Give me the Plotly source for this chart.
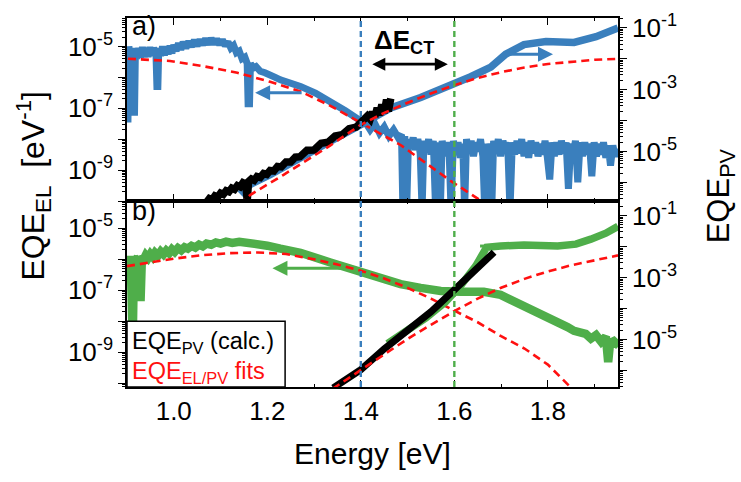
import plotly.graph_objects as go
from plotly.subplots import make_subplots

# ---------------- data ----------------
# Panel a) -- EQE_EL (left axis), blue, noisy measurement
a_el_E = [0.900, 0.902, 0.904, 0.907, 0.910, 0.913, 0.916, 0.918, 0.921, 0.925, 0.929, 0.933, 0.937, 0.941, 0.945,
          0.949, 0.953, 0.957, 0.962, 0.964, 0.966, 0.968, 0.972, 0.976, 0.980, 0.984, 0.988, 0.992, 0.996, 1.000,
          1.005, 1.010, 1.015, 1.020, 1.026, 1.032, 1.038, 1.044, 1.050, 1.056, 1.062, 1.068, 1.074, 1.080, 1.086,
          1.092, 1.098, 1.104, 1.110, 1.116, 1.122, 1.128, 1.134, 1.140, 1.146, 1.152, 1.157, 1.159, 1.162, 1.164,
          1.170, 1.176, 1.185, 1.195, 1.206, 1.217, 1.228, 1.249, 1.271, 1.303, 1.335, 1.367, 1.399, 1.410, 1.420,
          1.430, 1.440, 1.450, 1.460, 1.470, 1.480, 1.487,
          1.490, 1.494, 1.498, 1.502, 1.507, 1.512, 1.517, 1.522, 1.527, 1.531, 1.535, 1.540, 1.545, 1.550, 1.555,
          1.560, 1.565, 1.570, 1.574, 1.579, 1.584, 1.589, 1.593, 1.598, 1.603, 1.608, 1.613, 1.618, 1.622, 1.626,
          1.631, 1.636, 1.641, 1.646, 1.651, 1.656, 1.661, 1.665, 1.670, 1.675, 1.680, 1.684, 1.689, 1.694, 1.699,
          1.704, 1.709, 1.714, 1.719, 1.724, 1.729, 1.734, 1.739, 1.744, 1.749, 1.754, 1.759, 1.764, 1.769, 1.774,
          1.779, 1.784, 1.789, 1.794, 1.799, 1.804, 1.809, 1.814, 1.819, 1.824, 1.829, 1.834, 1.839, 1.844, 1.849,
          1.854, 1.859, 1.864, 1.869, 1.874, 1.879, 1.884, 1.889, 1.894, 1.899, 1.904, 1.909, 1.914, 1.919, 1.924,
          1.929, 1.934, 1.939, 1.944, 1.950]
a_el_v = [7.9e-6, 3.5e-8, 1.0e-5, 4.2e-6, 8.9e-6, 5.8e-8, 5.8e-8, 8.3e-6, 4.0e-6, 8.9e-6, 4.4e-6, 9.5e-6, 4.5e-6, 8.9e-6, 4.6e-6,
          9.5e-6, 5.0e-6, 8.9e-6, 5.6e-6, 5.1e-7, 5.1e-7, 8.9e-6, 5.0e-6, 1.0e-5, 5.2e-6, 1.0e-5, 5.6e-6, 1.05e-5, 6.0e-6, 1.12e-5,
          7.1e-6, 1.26e-5, 7.9e-6, 1.38e-5, 8.9e-6, 1.45e-5, 1.0e-5, 1.58e-5, 1.05e-5, 1.66e-5, 1.12e-5, 1.78e-5, 1.17e-5, 1.82e-5, 1.2e-5,
          1.74e-5, 1.15e-5, 1.66e-5, 1.05e-5, 1.41e-5, 8.9e-6, 1.07e-5, 6.3e-6, 7.1e-6, 4.0e-6, 4.5e-6, 2.8e-6, 1.4e-7, 1.4e-7, 2.8e-6,
          2.0e-6, 2.24e-6, 1.58e-6, 1.41e-6, 1.1e-6, 1.0e-6, 8.3e-7, 6.8e-7, 5.1e-7, 3.1e-7, 1.7e-7, 8.3e-8, 4.0e-8, 3.5e-8, 2.0e-8,
          3.2e-8, 1.58e-8, 2.5e-8, 1.26e-8, 2.0e-8, 1.12e-8, 1.41e-8,
          5e-11, 1.26e-8, 5e-11, 1.0e-8, 5.6e-9, 1.12e-8, 4.5e-9, 1.0e-8, 3.5e-9, 5e-11, 8.9e-9, 4.0e-9, 1.0e-8, 3.2e-9, 8.9e-9,
          5e-11, 7.9e-9, 5e-11, 8.9e-9, 2.8e-9, 7.9e-9, 3.5e-9, 5e-11, 8.9e-9, 3.2e-9, 7.9e-9, 2.5e-9, 7.1e-9, 5e-11, 1.0e-8,
          3.5e-9, 8.9e-9, 2.8e-9, 7.9e-9, 4.0e-9, 1.0e-8, 2.8e-9, 5e-11, 7.1e-9, 3.2e-9, 5e-11, 8.9e-9, 3.5e-9, 1.0e-8, 2.8e-9,
          8.9e-9, 4.0e-9, 7.9e-9, 5e-11, 7.9e-9, 3.2e-9, 8.9e-9, 3.5e-9, 1.0e-8, 2.8e-9, 7.9e-9, 2.5e-9, 8.9e-9, 3.5e-9, 7.9e-9,
          2.8e-9, 7.1e-9, 3.2e-9, 8.9e-9, 2.5e-9, 5.0e-10, 7.9e-9, 2.8e-9, 7.9e-9, 3.2e-9, 8.9e-9, 3.5e-9, 7.9e-9, 2.5e-10, 7.1e-9,
          3.2e-9, 8.9e-9, 4.0e-10, 7.9e-9, 2.8e-9, 7.9e-9, 3.2e-9, 7.1e-9, 6.3e-10, 7.9e-9, 2.8e-9, 7.1e-9, 3.2e-9, 7.9e-9, 2.5e-9,
          6.3e-9, 1.4e-9, 6.3e-9, 2.8e-9, 5.0e-9]

# Panel a) -- measured EQE_PV (right axis), blue
a_pv_E = [1.142, 1.164, 1.206, 1.271, 1.335, 1.404, 1.464, 1.528, 1.603, 1.635, 1.678, 1.710, 1.749, 1.796, 1.856, 1.903, 1.950]
a_pv_v = [4.2e-7, 8.7e-7, 1.78e-6, 6.6e-6, 2.14e-5, 7.9e-5, 2.57e-4, 5.6e-4, 1.58e-3, 2.63e-3, 5.4e-3, 1.41e-2, 2.88e-2,
          3.6e-2, 3.4e-2, 5.2e-2, 1.0e-1]

# Panel a) -- calculated EQE_PV (right axis), black
a_calc_E = [1.070, 1.076, 1.082, 1.088, 1.094, 1.100, 1.106, 1.112, 1.118, 1.124, 1.130, 1.136, 1.142, 1.148, 1.154,
            1.157, 1.160, 1.166, 1.172, 1.178, 1.185, 1.192, 1.199, 1.206, 1.214, 1.222, 1.230, 1.240, 1.250, 1.260,
            1.270, 1.285, 1.300, 1.315, 1.330, 1.345, 1.360, 1.375, 1.390, 1.400, 1.408, 1.414, 1.420, 1.425, 1.430,
            1.435, 1.440, 1.445, 1.450, 1.455, 1.459, 1.464]
a_calc_v = [2.3e-7, 3.0e-7, 2.75e-7, 3.7e-7, 3.4e-7, 4.5e-7, 4.1e-7, 5.4e-7, 5.0e-7, 6.6e-7, 6.0e-7, 7.9e-7, 7.2e-7, 9.8e-7, 8.9e-7,
            2.5e-7, 1.07e-6, 1.29e-6, 1.17e-6, 1.55e-6, 1.45e-6, 1.95e-6, 1.82e-6, 2.45e-6, 2.35e-6, 3.3e-6, 3.2e-6, 4.6e-6, 4.6e-6, 6.6e-6,
            6.8e-6, 1.1e-5, 1.12e-5, 1.86e-5, 2.0e-5, 3.2e-5, 3.5e-5, 5.5e-5, 6.2e-5, 8.9e-5, 1.0e-4, 1.41e-4, 1.12e-4, 1.9e-4, 1.32e-4,
            2.6e-4, 1.51e-4, 3.3e-4, 1.78e-4, 4.8e-4, 2.0e-4, 5.2e-4]

# Panel a) -- fits (red dashed)
a_elfit_E = [0.902, 0.992, 1.063, 1.136, 1.206, 1.271, 1.335, 1.399, 1.485, 1.592, 1.650, 1.700]
a_elfit_v = [4.0e-6, 3.4e-6, 2.3e-6, 1.41e-6, 7.2e-7, 3.5e-7, 1.2e-7, 3.5e-8, 6.5e-9, 4.5e-10, 1.2e-10, 3.2e-11]
a_pvfit_E = [1.140, 1.164, 1.234, 1.271, 1.335, 1.399, 1.450, 1.500, 1.550, 1.600, 1.650, 1.700, 1.750, 1.800,
             1.850, 1.900, 1.950]
a_pvfit_v = [1.9e-7, 4.0e-7, 1.74e-6, 4.0e-6, 1.58e-5, 7.2e-5, 1.78e-4, 3.8e-4, 7.6e-4, 1.41e-3, 2.4e-3, 3.7e-3,
             5.2e-3, 6.8e-3, 8.1e-3, 9.3e-3, 1.0e-2]

# Panel b) -- EQE_EL (left axis), green
b_el_E = [0.900, 0.902, 0.905, 0.908, 0.911, 0.913, 0.915, 0.919, 0.923, 0.926, 0.929, 0.932, 0.936, 0.940, 0.945,
          0.950, 0.955, 0.960, 0.966, 0.972, 0.978, 0.984, 0.990, 0.996, 1.002, 1.009, 1.016, 1.023, 1.030, 1.038,
          1.046, 1.054, 1.062, 1.070, 1.080, 1.090, 1.100, 1.112, 1.125, 1.140, 1.155, 1.170, 1.185, 1.200, 1.228,
          1.271, 1.335, 1.399, 1.442, 1.485, 1.528, 1.571, 1.614, 1.663, 1.699, 1.731, 1.764, 1.796, 1.812, 1.828,
          1.842, 1.856, 1.868, 1.881, 1.892, 1.903, 1.914, 1.924, 1.929, 1.933, 1.941, 1.952]
b_el_v = [1.12e-6, 8.9e-7, 1.15e-6, 8.9e-7, 1.26e-8, 1.26e-8, 1.17e-6, 9.5e-7, 1.2e-6, 5.0e-8, 4.5e-8, 1.29e-6, 1.02e-6, 1.35e-6, 1.1e-6,
          1.48e-6, 1.2e-6, 1.62e-6, 1.32e-6, 1.78e-6, 1.45e-6, 1.9e-6, 1.58e-6, 2.1e-6, 1.74e-6, 2.3e-6, 1.95e-6, 2.45e-6, 2.2e-6, 2.7e-6,
          2.4e-6, 2.95e-6, 2.6e-6, 3.2e-6, 2.95e-6, 3.5e-6, 3.2e-6, 3.7e-6, 3.4e-6, 3.7e-6, 3.5e-6, 3.4e-6, 3.0e-6, 2.75e-6, 2.2e-6,
          1.62e-6, 7.9e-7, 3.8e-7, 2.3e-7, 1.58e-7, 1.2e-7, 9.5e-8, 8.9e-8, 8.9e-8, 7.1e-8, 4.3e-8, 2.4e-8, 1.45e-8, 1.2e-8, 8.1e-9,
          6.5e-9, 4.9e-9, 4.5e-9, 3.9e-9, 2.75e-9, 3.6e-9, 2.2e-9, 3.2e-9, 4.8e-10, 2.0e-9, 2.3e-9, 1.6e-9]

# Panel b) -- measured EQE_PV (right axis), green
b_pv_E = [1.457, 1.496, 1.539, 1.581, 1.614, 1.646, 1.661, 1.669, 1.699, 1.749, 1.821, 1.860, 1.892, 1.924, 1.950]
b_pv_v = [7.4e-6, 1.78e-5, 5.0e-5, 1.62e-4, 5.6e-4, 2.4e-3, 6.2e-3, 9.5e-3, 1.05e-2, 1.12e-2, 1.05e-2, 1.2e-2,
          1.74e-2, 2.7e-2, 4.5e-2]

# Panel b) -- calculated EQE_PV (right axis), black
b_calc_E = [1.341, 1.370, 1.400, 1.450, 1.500, 1.550, 1.600, 1.650, 1.685]
b_calc_v = [2.75e-7, 5.0e-7, 1.07e-6, 5.0e-6, 2.0e-5, 7.9e-5, 4.0e-4, 2.0e-3, 6.6e-3]

# Panel b) -- fits (red dashed)
b_elfit_E = [0.90, 0.95, 1.00, 1.06, 1.12, 1.18, 1.24, 1.30, 1.35, 1.40, 1.45, 1.50, 1.55, 1.60, 1.65, 1.70, 1.75,
             1.80, 1.85, 1.90]
b_elfit_v = [6.0e-7, 7.9e-7, 1.05e-6, 1.35e-6, 1.58e-6, 1.66e-6, 1.48e-6, 1.0e-6, 6.8e-7, 4.3e-7, 2.4e-7, 1.2e-7,
             5.4e-8, 2.2e-8, 9.3e-9, 3.3e-9, 1.32e-9, 4.0e-10, 7.1e-11, 1.6e-11]
b_pvfit_E = [1.34, 1.40, 1.45, 1.50, 1.55, 1.60, 1.65, 1.70, 1.75, 1.80, 1.85, 1.90, 1.95]
b_pvfit_v = [2.6e-7, 1.05e-6, 3.3e-6, 1.05e-5, 3.0e-5, 8.3e-5, 2.1e-4, 4.7e-4, 9.1e-4, 1.58e-3, 2.5e-3, 3.7e-3, 5.2e-3]

# reference energies (vertical lines)
E_CT_a = 1.4
E_CT_b = 1.6

# tick labels
x_tickvals = [1.0, 1.2, 1.4, 1.6, 1.8]
x_ticktext = ["1.0", "1.2", "1.4", "1.6", "1.8"]
left_labels = {-9: "10<sup>-9</sup>", -7: "10<sup>-7</sup>", -5: "10<sup>-5</sup>"}
right_labels = {-5: "10<sup>-5</sup>", -3: "10<sup>-3</sup>", -1: "10<sup>-1</sup>"}

# ---------------- styling ----------------
BLUE = "#3a7fbd"
GREEN = "#4fae4a"
RED = "#ff1010"
FONT = "Liberation Sans, Arial, sans-serif"
TICK_SIZE = 26

fig = make_subplots(rows=2, cols=1, shared_xaxes=True, vertical_spacing=0,
                    specs=[[{"secondary_y": True}], [{"secondary_y": True}]])

def line(E, v, color, width, row, sec, dash=None):
    fig.add_trace(go.Scatter(x=E, y=v, mode="lines",
                             line=dict(color=color, width=width, dash=dash),
                             hoverinfo="skip", showlegend=False),
                  row=row, col=1, secondary_y=sec)

DASH = "8px,5px"
# panel a
line(a_el_E, a_el_v, BLUE, 7, 1, False)
line(a_elfit_E, a_elfit_v, RED, 2.6, 1, False, DASH)
line(a_pv_E, a_pv_v, BLUE, 7.5, 1, True)
line(a_calc_E, a_calc_v, "black", 7.5, 1, True)
line(a_pvfit_E, a_pvfit_v, RED, 2.6, 1, True, DASH)
# panel b
line(b_el_E, b_el_v, GREEN, 8.5, 2, False)
line(b_elfit_E, b_elfit_v, RED, 2.6, 2, False, DASH)
line(b_pv_E, b_pv_v, GREEN, 7.5, 2, True)
line(b_calc_E, b_calc_v, "black", 7, 2, True)
line(b_pvfit_E, b_pvfit_v, RED, 2.6, 2, True, DASH)

def decade_ticks(lo, hi, labels):
    vals = [10.0 ** n for n in range(lo, hi + 1)]
    text = [labels.get(n, "") for n in range(lo, hi + 1)]
    minor = [k * 10.0 ** n for n in range(lo - 1, hi + 1) for k in range(2, 10)]
    return vals, text, minor

def yaxis_style(rng, lo, hi, labels, side):
    vals, text, minor = decade_ticks(lo, hi, labels)
    return dict(type="log", range=rng, tickvals=vals, ticktext=text,
                ticks="outside", ticklen=7, tickwidth=1.3, tickcolor="black",
                minor=dict(tickvals=minor, ticks="outside", ticklen=3.5, tickwidth=1, tickcolor="black"),
                showline=True, linecolor="black", linewidth=1.6, showgrid=False, zeroline=False,
                tickfont=dict(family=FONT, size=TICK_SIZE, color="black"), side=side)

xstyle = dict(range=[0.9, 1.95], domain=[0.0, 1.0], tickvals=x_tickvals, ticktext=x_ticktext,
              ticks="inside", ticklen=7, tickwidth=1.3, tickcolor="black",
              minor=dict(dtick=0.1, tick0=0.9, ticks="inside", ticklen=3.5, tickwidth=1, tickcolor="black"),
              showline=True, linecolor="black", linewidth=1.6, mirror="ticks", showgrid=False, zeroline=False,
              tickfont=dict(family=FONT, size=TICK_SIZE, color="black"))

fig.update_layout(
    width=741, height=482,
    margin=dict(l=127, r=123, t=10, b=95),
    paper_bgcolor="white", plot_bgcolor="white",
    showlegend=False, hovermode=False,
    font=dict(family=FONT, color="black"),
)
fig.update_layout(
    xaxis=dict(xstyle, showticklabels=False),
    xaxis2=dict(xstyle, showticklabels=True),
    yaxis=dict(yaxis_style([-10.0, -4.08], -10, -5, left_labels, "left"), domain=[0.504, 1.0]),
    yaxis2=dict(yaxis_style([-6.6, -0.68], -6, -1, right_labels, "right")),
    yaxis3=dict(yaxis_style([-10.12, -4.12], -10, -5, left_labels, "left"), domain=[0.0, 0.504]),
    yaxis4=dict(yaxis_style([-6.53, -0.53], -6, -1, right_labels, "right")),
)

shapes = []
# vertical dashed lines through both panels
shapes.append(dict(type="line", xref="x", yref="paper", x0=E_CT_a, x1=E_CT_a, y0=0, y1=1,
                   line=dict(color=BLUE, width=2.4, dash="6px,4px"), layer="above"))
shapes.append(dict(type="line", xref="x", yref="paper", x0=E_CT_b, x1=E_CT_b, y0=0, y1=1,
                   line=dict(color=GREEN, width=2.4, dash="6px,4px"), layer="above"))
# green short arrow stub in panel b (head hidden by curve)
shapes.append(dict(type="line", xref="x", yref="paper", x0=1.655, x1=1.70, y0=0.382, y1=0.382,
                   line=dict(color=GREEN, width=3), layer="below"))
# legend box
shapes.append(dict(type="rect", xref="paper", yref="paper", x0=0, x1=0.322, y0=0, y1=0.178,
                   line=dict(color="black", width=1.5), fillcolor="white", layer="above"))
fig.update_layout(shapes=shapes)

ann = []
# panel labels
ann.append(dict(text="a)", xref="paper", yref="paper", x=0.006, y=0.978, xanchor="left", yanchor="middle",
                showarrow=False, font=dict(size=27)))
ann.append(dict(text="b)", xref="paper", yref="paper", x=0.006, y=0.478, xanchor="left", yanchor="middle",
                showarrow=False, font=dict(size=27)))
# Delta E_CT
ann.append(dict(text="<b>ΔE<sub>CT</sub></b>", xref="x", yref="paper", x=1.492, y=0.935,
                xanchor="center", yanchor="middle", showarrow=False, font=dict(size=26)))
ann.append(dict(text="", xref="x", yref="paper", x=1.586, y=0.875, ax=-77, ay=0,
                showarrow=True, arrowside="end+start", arrowhead=2, arrowsize=1.0, arrowwidth=2.6,
                arrowcolor="black"))
# direction arrows
ann.append(dict(text="", xref="x", yref="y", x=1.174, y=-6.50, ax=48, ay=0, showarrow=True,
                arrowhead=2, arrowsize=1.0, arrowwidth=3, arrowcolor=BLUE))
ann.append(dict(text="", xref="x", yref="y2", x=1.811, y=-1.85, ax=-45, ay=0, showarrow=True,
                arrowhead=2, arrowsize=1.0, arrowwidth=3, arrowcolor=BLUE))
ann.append(dict(text="", xref="x2", yref="y3", x=1.211, y=-6.29, ax=73, ay=0, showarrow=True,
                arrowhead=2, arrowsize=1.0, arrowwidth=3, arrowcolor=GREEN))
# legend texts
ann.append(dict(text="EQE<sub>PV</sub> (calc.)", xref="paper", yref="paper", x=0.006, y=0.12,
                xanchor="left", yanchor="middle", showarrow=False, font=dict(size=23.5, color="black")))
ann.append(dict(text="EQE<sub>EL/PV</sub> fits", xref="paper", yref="paper", x=0.006, y=0.04,
                xanchor="left", yanchor="middle", showarrow=False, font=dict(size=23.5, color=RED)))
# axis titles
ann.append(dict(text="EQE<sub>EL</sub>\u00a0\u00a0[eV<sup>-1</sup>]", xref="paper", yref="paper", x=-0.19, y=0.545,
                xanchor="center", yanchor="middle", textangle=-90, showarrow=False, font=dict(size=32)))
ann.append(dict(text="EQE<sub>PV</sub>", xref="paper", yref="paper", x=1.21, y=0.517,
                xanchor="center", yanchor="middle", textangle=-90, showarrow=False, font=dict(size=31)))
ann.append(dict(text="Energy [eV]", xref="paper", yref="paper", x=0.5, y=-0.18,
                xanchor="center", yanchor="middle", showarrow=False, font=dict(size=30)))
fig.update_layout(annotations=ann)

fig.write_html("out.html")
